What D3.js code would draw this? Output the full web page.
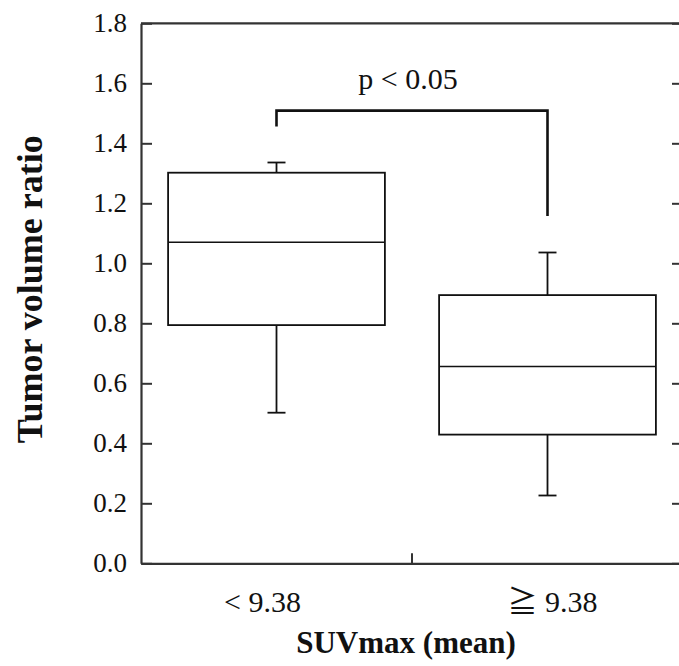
<!DOCTYPE html>
<html><head><meta charset="utf-8">
<script src="https://cdn.jsdelivr.net/npm/d3@7"></script>
<style>body{margin:0;background:#fff}svg{display:block}</style>
</head><body>
<script>
const categories = ["< 9.38", "\u2267 9.38"];
const whiskerLow = [0.502, 0.226];
const q1 = [0.794, 0.429];
const median = [1.070, 0.656];
const q3 = [1.302, 0.894];
const whiskerHigh = [1.336, 1.036];
const yTicks = [0.0, 0.2, 0.4, 0.6, 0.8, 1.0, 1.2, 1.4, 1.6, 1.8];
const pLabel = "p < 0.05";
const bracketTop = 1.509, bracketLeftEnd = 1.456, bracketRightEnd = 1.158;
const xTitle = "SUVmax (mean)";
const yTitle = "Tumor volume ratio";

const W = 679, H = 666;
const svg = d3.select("body").append("svg").attr("width", W).attr("height", H);
const x = d3.scaleBand().domain(categories).range([141, 683]).padding(0);
const y = d3.scaleLinear().domain([0, 1.8]).range([563.3, 23.3]);
const serif = "'Liberation Serif', 'Noto Sans CJK JP', serif";
const axisColor = "#333";

// frame axes
const left = svg.append("g").attr("transform", "translate(141,0)")
  .call(d3.axisLeft(y).tickValues(yTicks).tickFormat(d3.format(".1f")).tickSizeInner(-11).tickSizeOuter(0).tickPadding(14));
left.attr("font-family", null);
left.select(".domain").attr("stroke", axisColor).attr("stroke-width", 2.2);
left.selectAll(".tick line").attr("stroke", axisColor).attr("stroke-width", 2);
left.selectAll(".tick text").style("font-family", serif).style("font-size", "27px").attr("fill", "#111").attr("dy", "0.3em");

const right = svg.append("g").attr("transform", "translate(683,0)")
  .call(d3.axisRight(y).tickValues(yTicks).tickFormat("").tickSizeInner(-11).tickSizeOuter(0));
right.select(".domain").attr("stroke", axisColor).attr("stroke-width", 2.2);
right.selectAll(".tick line").attr("stroke", axisColor).attr("stroke-width", 2);

const bottom = svg.append("g").attr("transform", `translate(0,${y(0)})`)
  .call(d3.axisBottom(x).tickSize(0).tickFormat(""));
bottom.select(".domain").attr("stroke", axisColor).attr("stroke-width", 2.2);
// mid tick between categories
svg.append("line").attr("x1", x(categories[1])).attr("x2", x(categories[1]))
  .attr("y1", y(0)).attr("y2", y(0) - 10).attr("stroke", axisColor).attr("stroke-width", 2);
// top frame line
svg.append("line").attr("x1", 141).attr("x2", 683).attr("y1", y(1.8)).attr("y2", y(1.8))
  .attr("stroke", axisColor).attr("stroke-width", 2.2);

// category labels
const labelShift = [-14, 5];
svg.selectAll(".cat").data(categories).enter().append("text")
  .attr("x", (d, i) => x(d) + x.bandwidth() / 2 + labelShift[i]).attr("y", 612)
  .attr("text-anchor", "middle").style("font-family", serif).style("font-size", "30px").attr("fill", "#111")
  .text(d => d);

// boxes
const bw = x.bandwidth() * 0.8, cap = 18;
const g = svg.append("g").attr("stroke", "#111").attr("fill", "none");
categories.forEach((c, i) => {
  const cx = x(c) + x.bandwidth() / 2;
  g.append("line").attr("x1", cx).attr("x2", cx).attr("y1", y(q3[i])).attr("y2", y(whiskerHigh[i])).attr("stroke-width", 1.8);
  g.append("line").attr("x1", cx).attr("x2", cx).attr("y1", y(q1[i])).attr("y2", y(whiskerLow[i])).attr("stroke-width", 1.8);
  g.append("line").attr("x1", cx - cap / 2).attr("x2", cx + cap / 2).attr("y1", y(whiskerHigh[i])).attr("y2", y(whiskerHigh[i])).attr("stroke-width", 1.8);
  g.append("line").attr("x1", cx - cap / 2).attr("x2", cx + cap / 2).attr("y1", y(whiskerLow[i])).attr("y2", y(whiskerLow[i])).attr("stroke-width", 1.8);
  g.append("rect").attr("x", cx - bw / 2).attr("width", bw).attr("y", y(q3[i])).attr("height", y(q1[i]) - y(q3[i])).attr("stroke-width", 1.8);
  g.append("line").attr("x1", cx - bw / 2).attr("x2", cx + bw / 2).attr("y1", y(median[i])).attr("y2", y(median[i])).attr("stroke-width", 1.6);
});

// significance bracket
const c0 = x(categories[0]) + x.bandwidth() / 2, c1 = x(categories[1]) + x.bandwidth() / 2;
svg.append("path").attr("fill", "none").attr("stroke", "#111").attr("stroke-width", 2.6)
  .attr("d", `M${c0},${y(bracketLeftEnd)}V${y(bracketTop)}H${c1}V${y(bracketRightEnd)}`);
svg.append("text").attr("x", (c0 + c1) / 2 - 4).attr("y", y(1.58))
  .attr("text-anchor", "middle").style("font-family", serif).style("font-size", "30px").attr("fill", "#111")
  .text(pLabel);

// titles
svg.append("text").attr("x", (c0 + c1) / 2 - 6).attr("y", 653).attr("text-anchor", "middle")
  .style("font-family", serif).style("font-weight", "bold").style("font-size", "31px").attr("fill", "#111").text(xTitle);
svg.append("text").attr("transform", `translate(42,${(y(0) + y(1.8)) / 2 - 4}) rotate(-90)`).attr("text-anchor", "middle")
  .style("font-family", serif).style("font-weight", "bold").style("font-size", "36px").attr("fill", "#111").text(yTitle);
</script>
</body></html>
